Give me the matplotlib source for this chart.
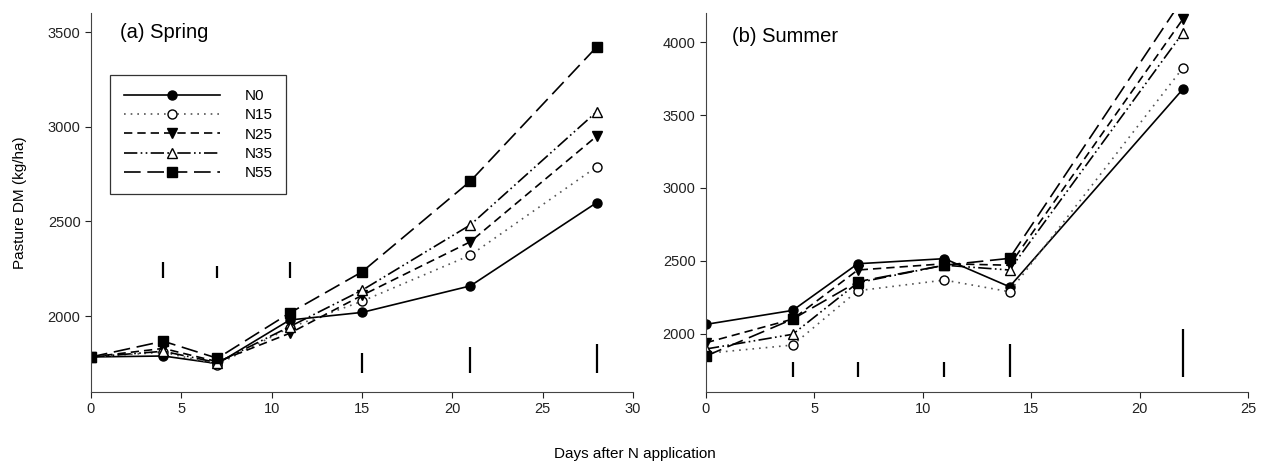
import matplotlib.pyplot as plt

plt.rcParams['font.family'] = ['Liberation Sans', 'DejaVu Sans']

# Spring data
spring_days = [0, 4, 7, 11, 15, 21, 28]
spring_n0 = [1785, 1790, 1750, 1980, 2020, 2160, 2600]
spring_n15 = [1785, 1810, 1745, 1940, 2079, 2322, 2789]
spring_n25 = [1785, 1830, 1760, 1910, 2110, 2393, 2951]
spring_n35 = [1785, 1815, 1755, 1945, 2137, 2482, 3080]
spring_n55 = [1785, 1868, 1778, 2017, 2234, 2713, 3422]
spring_bar_x = [4, 7, 11, 15, 21, 28]
spring_bar_lo = [2200, 2200, 2200, 1700, 1700, 1700]
spring_bar_hi = [2285, 2264, 2285, 1805, 1836, 1852]

# Summer data
summer_days = [0, 4, 7, 11, 14, 22]
summer_n0 = [2064, 2160, 2480, 2515, 2322, 3679]
summer_n15 = [1865, 1922, 2295, 2368, 2288, 3825]
summer_n25 = [1938, 2100, 2437, 2480, 2470, 4160]
summer_n35 = [1895, 1996, 2350, 2470, 2437, 4066]
summer_n55 = [1847, 2100, 2357, 2470, 2517, 4300]
summer_bar_x = [4, 7, 11, 14, 22]
summer_bar_lo = [1705, 1705, 1705, 1705, 1705]
summer_bar_hi = [1808, 1805, 1808, 1927, 2030]

labels = ["N0", "N15", "N25", "N35", "N55"]
styles = [
    dict(ls='-', marker='o', mfc='black', color='black'),
    dict(ls=(0, (1, 3)), marker='o', mfc='white', color='#555555', mec='black'),
    dict(ls=(0, (5, 3)), marker='v', mfc='black', color='black'),
    dict(ls=(0, (8, 2, 1, 2, 1, 2)), marker='^', mfc='white', color='black'),
    dict(ls=(0, (10, 4)), marker='s', mfc='black', color='black'),
]

fig = plt.figure(figsize=(12.69, 4.67), dpi=100)
ax1 = fig.add_axes([0.0717, 0.1606, 0.4271, 0.8114])
ax2 = fig.add_axes([0.5563, 0.1606, 0.4272, 0.8114])


def draw(ax, days, series, bx, blo, bhi):
    for vals, lab, st in zip(series, labels, styles):
        ax.plot(days, vals, label=lab, lw=1.2, ms=6.5, mew=1.0, **st)
    ax.vlines(bx, blo, bhi, color='black', lw=1.6)
    for s in ['top', 'right']:
        ax.spines[s].set_visible(False)
    for s in ['left', 'bottom']:
        ax.spines[s].set_color('#444444')
    ax.tick_params(direction='out', length=4, labelsize=10.5, colors='#222222')


draw(ax1, spring_days, [spring_n0, spring_n15, spring_n25, spring_n35, spring_n55],
     spring_bar_x, spring_bar_lo, spring_bar_hi)
ax1.set_xlim(0, 30)
ax1.set_ylim(1600, 3600)
ax1.set_xticks([0, 5, 10, 15, 20, 25, 30])
ax1.set_yticks([2000, 2500, 3000, 3500])
ax1.text(1.6, 3500, "(a) Spring", fontsize=14.5, va='center')
ax1.set_ylabel("Pasture DM (kg/ha)", fontsize=11)
ax1.yaxis.set_label_coords(-0.118, 0.5)
leg = ax1.legend(loc='upper left', bbox_to_anchor=(0.035, 0.836), frameon=True,
                 fancybox=False, edgecolor='black', fontsize=11, handlelength=6.3,
                 labelspacing=0.35, borderpad=0.9, handletextpad=1.6,
                 borderaxespad=0)
leg.get_frame().set_linewidth(0.9)

draw(ax2, summer_days, [summer_n0, summer_n15, summer_n25, summer_n35, summer_n55],
     summer_bar_x, summer_bar_lo, summer_bar_hi)
ax2.set_xlim(0, 25)
ax2.set_ylim(1600, 4200)
ax2.set_xticks([0, 5, 10, 15, 20, 25])
ax2.set_yticks([2000, 2500, 3000, 3500, 4000])
ax2.text(1.2, 4040, "(b) Summer", fontsize=14.5, va='center')

fig.text(0.5, 0.02, "Days after N application", ha='center', fontsize=11)

fig.savefig("out.png", dpi=100)
